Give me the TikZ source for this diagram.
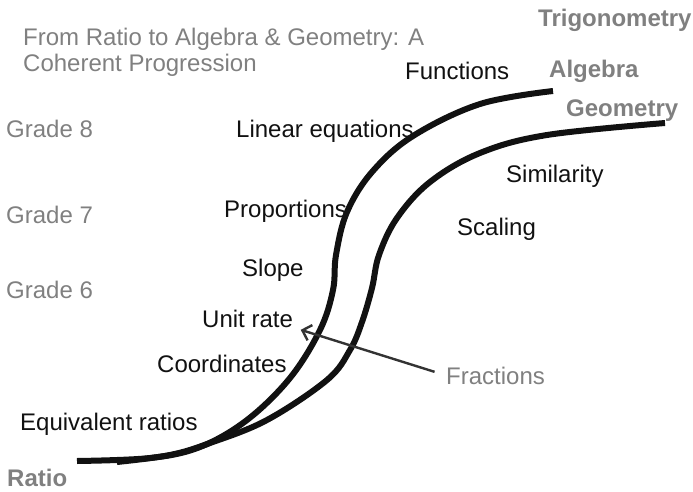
\documentclass[tikz,border=0pt]{standalone}
\usepackage{fontspec}
\setmainfont{Liberation Sans}
\usetikzlibrary{arrows.meta}
\definecolor{progblack}{HTML}{111111}
\definecolor{proggray}{HTML}{808080}
\definecolor{progarrow}{HTML}{333333}

\begin{document}
\begin{tikzpicture}[x=1pt, y=-1pt,
  lbl/.style={anchor=base west, inner sep=0pt, font=\fontsize{24}{26}\selectfont},
  topic/.style={lbl, text=progblack},
  grade/.style={lbl, text=proggray},
  strand/.style={lbl, text=proggray, font=\fontsize{24}{26}\selectfont\bfseries},
  strandline/.style={line width=6pt, progblack, line cap=butt},
  fracarrow/.style={-{Straight Barb[length=8pt, width=16pt]}, line width=2.4pt, progarrow}]
  \useasboundingbox (0,0) rectangle (693,492);
  % title
  \node[grade, anchor=north west, align=left] (title) at (23,27.5)
      {From Ratio to Algebra \& Geometry: A\\Coherent Progression};
  % grades
  \foreach \g/\y in {8/137, 7/223, 6/298}
    \node[grade] (g\g) at (6,\y) {Grade \g};
  % strands
  \node[strand] (trig) at (538,27) {Trigonometry};
  \node[strand] (alg) at (549,78) {Algebra};
  \node[strand] (geo) at (566,117) {Geometry};
  \node[strand] (ratio) at (7,486) {Ratio};
  % the two paths out of ratio
  \draw[strandline] plot[smooth, tension=0.6] coordinates {(77,461) (150,458) (200,447)
      (247,420) (290,378) (320,330) (333,290) (336,255) (347,212) (372,172)
      (413,136) (480,104) (553,91)};
  \draw[strandline] plot[smooth, tension=0.6] coordinates {(117,462) (170,455) (210,443)
      (267,420) (327,380) (350,350) (362,322) (372,288) (379,255) (397,218)
      (430,182) (480,153) (547,135) (665,123)};
  % topics
  \node[topic] (func) at (405,80) {Functions};
  \node[topic] (lineq) at (236,137) {Linear equations};
  \node[topic] (sim) at (506,182) {Similarity};
  \node[topic] (prop) at (224,217) {Proportions};
  \node[topic] (scal) at (457,235) {Scaling};
  \node[topic] (slope) at (242,276) {Slope};
  \node[topic] (unit) at (202,327) {Unit rate};
  \node[topic] (coord) at (157,372) {Coordinates};
  \node[topic] (equiv) at (20,430) {Equivalent ratios};
  \node[grade] (frac) at (446,384) {Fractions};
  \draw[fracarrow, shorten <=12pt, shorten >=8pt] (frac.west) -- (unit.south east);
\end{tikzpicture}
\end{document}
